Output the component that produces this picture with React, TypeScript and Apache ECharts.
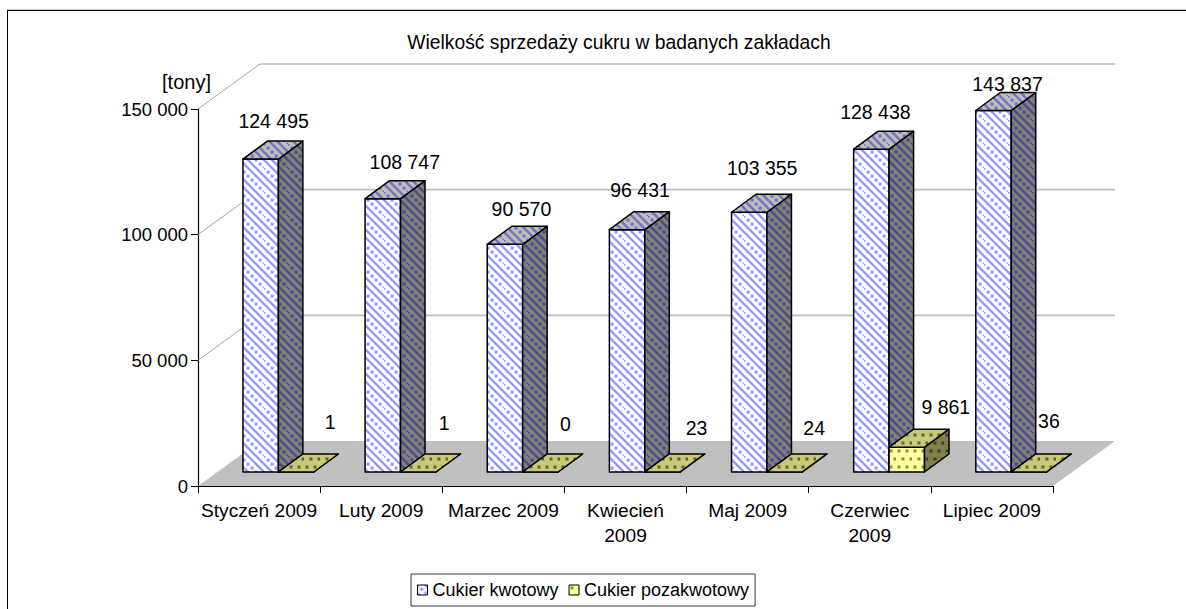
import React, { useEffect, useRef } from "react";
import * as echarts from "echarts";

const titleText = "Wielkość sprzedaży cukru w badanych zakładach";
const unitText = "[tony]";
const categories = [
  "Styczeń 2009",
  "Luty 2009",
  "Marzec 2009",
  "Kwiecień\n2009",
  "Maj 2009",
  "Czerwiec\n2009",
  "Lipiec 2009",
];
const seriesNames = ["Cukier kwotowy", "Cukier pozakwotowy"];
const quotaSugar = [124495, 108747, 90570, 96431, 103355, 128438, 143837];
const extraSugar = [1, 1, 0, 23, 24, 9861, 36];
const axisTicks = [0, 50000, 100000, 150000];

// Layout of the fake 3D scene, in pixels
const FONT = "Liberation Sans";
const WALL_DX = 62;
const WALL_DY = 45;
const BAR_SHIFT_X = 19.3;
const BAR_SHIFT_Y = 14;
const BAR_DX = 24.5;
const BAR_DY = 18;
const BAR_WIDTH_RATIO = 0.29;
// Hand-placed data labels: shift from the bar's front-face centre / back top edge
const quotaLabelDX = [13, 22, 16.5, 13, 13, 4, 14];
const quotaLabelDY = [-20, -19, -17, -22, -26, -19, -8.5];
const extraLabelDX = [34, 26, 25, 34, 29.5, 39, 20];
const extraLabelDY = [-32, -31, -30, -26, -26, -22, -33];

const fmt = (v: number) => String(v).replace(/\B(?=(\d{3})+$)/g, " ");

function stripeTile(bg: string, stripe: string) {
  const size = 24;
  const c = document.createElement("canvas");
  c.width = size;
  c.height = size;
  const g = c.getContext("2d")!;
  g.fillStyle = bg;
  g.fillRect(0, 0, size, size);
  g.strokeStyle = stripe;
  g.fillStyle = stripe;
  g.lineWidth = 2.4;
  for (const base of [-size, 0, size]) {
    for (const off of [8, 16]) {
      g.beginPath();
      g.moveTo(base + off - 2, -2);
      g.lineTo(base + off + size + 2, size + 2);
      g.stroke();
    }
  }
  for (let i = -1; i <= 6; i++) {
    g.fillRect(i * 4 - 1.5, i * 4 - 1.5, 3.2, 3.2);
  }
  return { image: c, repeat: "repeat", imageWidth: size, imageHeight: size };
}

function dotTile(bg: string, dot: string) {
  const size = 16;
  const c = document.createElement("canvas");
  c.width = size;
  c.height = size;
  const g = c.getContext("2d")!;
  g.fillStyle = bg;
  g.fillRect(0, 0, size, size);
  g.fillStyle = dot;
  for (const [x, y] of [[3, 3], [11, 3], [7, 11], [15, 11]]) {
    g.fillRect(x - 1.5, y - 1.5, 3, 3);
  }
  return { image: c, repeat: "repeat", imageWidth: size, imageHeight: size };
}

export default function App() {
  const ref = useRef<HTMLDivElement>(null);

  useEffect(() => {
    const chart = echarts.init(ref.current!, undefined, { renderer: "svg" });

    const quotaFills = {
      front: stripeTile("#ffffff", "#9999ff"),
      top: stripeTile("#bfbfbf", "#7373bf"),
      side: stripeTile("#808080", "#4d4d80"),
    };
    const extraFills = {
      front: dotTile("#ffff99", "#8a8a60"),
      top: dotTile("#c8c878", "#60603c"),
      side: dotTile("#808048", "#404024"),
    };

    const barItem = (
      seriesIdx: number,
      fills: any,
      labelDX: number[],
      labelDY: number[]
    ) => (_: any, api: any) => {
      const i = api.value(0);
      const v = api.value(1);
      const step = api.size([1, 0])[0];
      const w = step * BAR_WIDTH_RATIO;
      const c = api.coord([i, v]);
      const b = api.coord([i, 0]);
      const x0 = seriesIdx === 0 ? c[0] + BAR_SHIFT_X - w : c[0] + BAR_SHIFT_X;
      const x1 = x0 + w;
      const yTop = c[1] - BAR_SHIFT_Y;
      const yBot = b[1] - BAR_SHIFT_Y;
      const edge = { stroke: "#000", lineWidth: 1.5, lineJoin: "round" };
      return {
        type: "group",
        children: [
          {
            type: "polygon",
            shape: { points: [[x0, yBot], [x1, yBot], [x1, yTop], [x0, yTop]] },
            style: { fill: fills.front, ...edge },
          },
          {
            type: "polygon",
            shape: {
              points: [[x1, yBot], [x1 + BAR_DX, yBot - BAR_DY], [x1 + BAR_DX, yTop - BAR_DY], [x1, yTop]],
            },
            style: { fill: fills.side, ...edge },
          },
          {
            type: "polygon",
            shape: {
              points: [[x0, yTop], [x1, yTop], [x1 + BAR_DX, yTop - BAR_DY], [x0 + BAR_DX, yTop - BAR_DY]],
            },
            style: { fill: fills.top, ...edge },
          },
          {
            type: "text",
            style: {
              text: fmt(v),
              x: (x0 + x1) / 2 + labelDX[i],
              y: yTop - BAR_DY + labelDY[i],
              align: "center",
              verticalAlign: "middle",
              fill: "#000",
              font: `19.5px "${FONT}"`,
            },
          },
        ],
      };
    };

    const wallItem = (_: any, api: any) => {
      const v = api.value(0);
      const step = api.size([1, 0])[0];
      const p = api.coord([0, v]);
      const xL = p[0] - step / 2;
      const xR = xL + step * categories.length;
      const y = p[1];
      if (v === 0) {
        return {
          type: "polygon",
          shape: { points: [[xL, y], [xL + WALL_DX, y - WALL_DY], [xR + WALL_DX, y - WALL_DY], [xR, y]] },
          style: { fill: "#c0c0c0", stroke: "none" },
        };
      }
      return {
        type: "group",
        children: [
          {
            type: "line",
            shape: { x1: xL, y1: y, x2: xL + WALL_DX, y2: y - WALL_DY },
            style: { stroke: "#a6a6a6", lineWidth: 1 },
          },
          {
            type: "line",
            shape: { x1: xL + WALL_DX, y1: y - WALL_DY, x2: xR + WALL_DX, y2: y - WALL_DY },
            style: { stroke: "#bdbdbd", lineWidth: 1.6 },
          },
        ],
      };
    };

    chart.setOption({
      animation: false,
      backgroundColor: "#ffffff",
      textStyle: { fontFamily: FONT },
      title: {
        text: titleText,
        left: 614,
        top: 28,
        textAlign: "center",
        textStyle: { fontFamily: FONT, fontSize: 19.3, fontWeight: "normal", color: "#000" },
      },
      grid: { left: 198, top: 109, width: 855, height: 377 },
      xAxis: {
        type: "category",
        data: categories,
        axisLine: { lineStyle: { color: "#000", width: 1.2 } },
        axisTick: { show: true, length: 7, lineStyle: { color: "#000", width: 1 } },
        axisLabel: {
          interval: 0,
          margin: 12,
          color: "#000",
          fontFamily: FONT,
          fontSize: 19.2,
          lineHeight: 25,
        },
      },
      yAxis: {
        type: "value",
        min: 0,
        max: 150000,
        interval: 50000,
        axisLine: { show: true, lineStyle: { color: "#000", width: 1.2 } },
        axisTick: { show: true, length: 7, lineStyle: { color: "#000", width: 1 } },
        splitLine: { show: false },
        axisLabel: {
          margin: 10,
          color: "#000",
          fontFamily: FONT,
          fontSize: 18.5,
          formatter: (v: number) => fmt(v),
        },
      },
      legend: {
        left: 411,
        top: 574,
        orient: "horizontal",
        padding: [7, 6, 7, 6],
        itemGap: 10,
        itemWidth: 10,
        itemHeight: 10,
        selectedMode: false,
        borderColor: "#333",
        borderWidth: 1,
        icon: "rect",
        textStyle: { fontFamily: FONT, fontSize: 18, color: "#000" },
        data: [
          { name: seriesNames[0], itemStyle: { color: quotaFills.front, borderColor: "#000", borderWidth: 1 } },
          { name: seriesNames[1], itemStyle: { color: extraFills.front, borderColor: "#000", borderWidth: 1 } },
        ],
      },
      graphic: [
        {
          type: "text",
          style: { text: unitText, x: 186.5, y: 82, align: "center", verticalAlign: "middle", fill: "#000", font: `20px "${FONT}"` },
        },
        { type: "line", shape: { x1: 7, y1: 9.5, x2: 1186, y2: 9.5 }, style: { stroke: "#c8c8c8", lineWidth: 1 } },
        { type: "line", shape: { x1: 7, y1: 10.5, x2: 1186, y2: 10.5 }, style: { stroke: "#000", lineWidth: 1 } },
        { type: "line", shape: { x1: 7.5, y1: 10, x2: 7.5, y2: 609 }, style: { stroke: "#000", lineWidth: 1 } },
      ],
      series: [
        {
          type: "custom",
          name: "walls",
          silent: true,
          z: 1,
          renderItem: wallItem,
          encode: { y: 0 },
          data: axisTicks.map((v) => [v]),
        },
        {
          type: "custom",
          name: seriesNames[0],
          silent: true,
          z: 2,
          itemStyle: { color: "#ccccff" },
          renderItem: barItem(0, quotaFills, quotaLabelDX, quotaLabelDY),
          encode: { x: 0, y: 1 },
          data: quotaSugar.map((v, i) => [i, v]),
        },
        {
          type: "custom",
          name: seriesNames[1],
          silent: true,
          z: 3,
          itemStyle: { color: "#ffff99" },
          renderItem: barItem(1, extraFills, extraLabelDX, extraLabelDY),
          encode: { x: 0, y: 1 },
          data: extraSugar.map((v, i) => [i, v]),
        },
      ],
    });

    return () => chart.dispose();
  }, []);

  return (
    <div
      ref={ref}
      style={{ position: "fixed", left: 0, top: 0, width: 1186, height: 609, background: "#fff" }}
    />
  );
}
